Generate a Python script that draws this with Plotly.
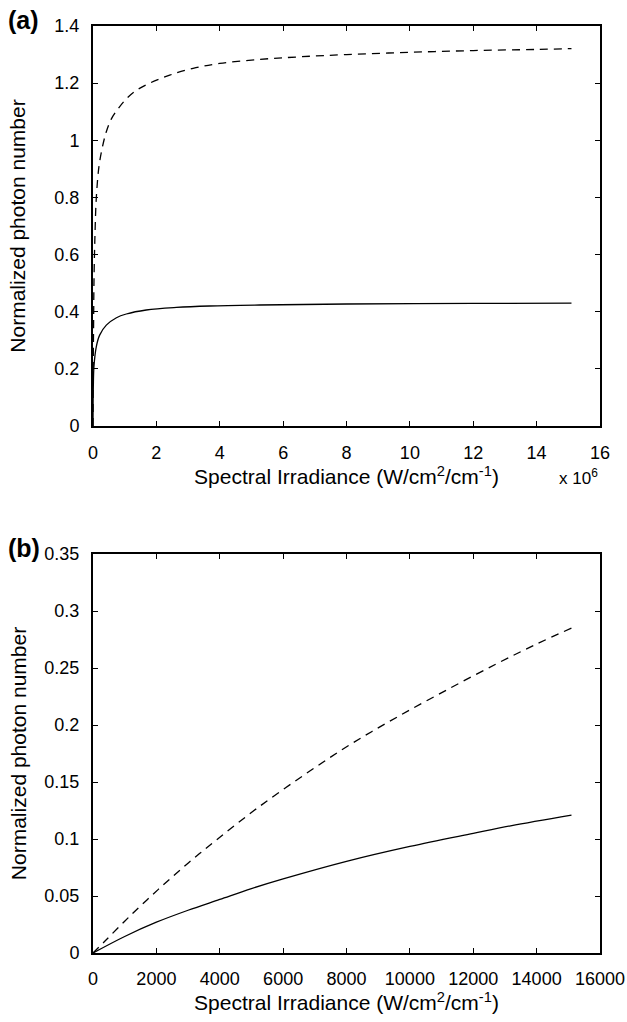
import plotly.graph_objects as go
from plotly.subplots import make_subplots

# ---- Panel (a) data (x in W/cm^2/cm^-1) ----
a_dash_x = [0, 0.01e6, 0.02e6, 0.03e6, 0.06e6, 0.105e6, 0.19e6, 0.295e6, 0.42e6, 0.58e6,
            0.79e6, 1.05e6, 1.37e6, 1.79e6, 2.42e6, 3.16e6, 4.0e6, 5.26e6, 6.5e6, 8e6,
            10e6, 12e6, 14e6, 15.1e6]
a_dash_y = [0, 0.25, 0.37, 0.5, 0.66, 0.80, 0.91, 0.975, 1.03, 1.075,
            1.11, 1.145, 1.175, 1.2, 1.228, 1.252, 1.269, 1.283, 1.292, 1.300,
            1.308, 1.314, 1.318, 1.321]
a_solid_x = [0, 0.003e6, 0.01e6, 0.03e6, 0.105e6, 0.21e6, 0.42e6, 0.74e6, 1.05e6, 1.68e6,
             2.63e6, 3.68e6, 5.26e6, 8e6, 12e6, 15.1e6]
a_solid_y = [0, 0.08, 0.138, 0.208, 0.278, 0.318, 0.353, 0.379, 0.392, 0.406,
             0.415, 0.42, 0.4235, 0.427, 0.429, 0.43]

# ---- Panel (b) data ----
b_dash_x = [0, 379, 1115, 2062, 3008, 3955, 5179, 6653, 8126, 9600, 11179, 12758, 14000, 15100]
b_dash_y = [0, 0.0105, 0.031, 0.0558, 0.079, 0.1005, 0.127, 0.156, 0.183, 0.207, 0.231,
            0.254, 0.271, 0.285]
b_solid_x = [0, 1000, 2000, 3000, 4000, 5000, 6000, 8000, 10000, 12000, 13179, 15100]
b_solid_y = [0, 0.0145, 0.027, 0.0375, 0.047, 0.0565, 0.065, 0.0804, 0.0935, 0.105,
             0.1116, 0.121]

a_xticks = [0, 2e6, 4e6, 6e6, 8e6, 10e6, 12e6, 14e6, 16e6]
a_xtext = ["0", "2", "4", "6", "8", "10", "12", "14", "16"]
a_yticks = [0, 0.2, 0.4, 0.6, 0.8, 1.0, 1.2, 1.4]
a_ytext = ["0", "0.2", "0.4", "0.6", "0.8", "1", "1.2", "1.4"]
b_xticks = [0, 2000, 4000, 6000, 8000, 10000, 12000, 14000, 16000]
b_xtext = [str(v) for v in b_xticks]
b_yticks = [0, 0.05, 0.1, 0.15, 0.2, 0.25, 0.3, 0.35]
b_ytext = ["0", "0.05", "0.1", "0.15", "0.2", "0.25", "0.3", "0.35"]

FONT = "Liberation Sans, Arial, sans-serif"
W, H = 627, 1022
ml, mr, mt, mb = 93, 27, 26, 69
ph = H - mt - mb

fig = make_subplots(rows=2, cols=1)
line_d = dict(color="black", width=1.3, dash="8px,6px")
line_s = dict(color="black", width=1.3)
fig.add_trace(go.Scatter(x=a_dash_x, y=a_dash_y, mode="lines", line=line_d, line_shape="spline"), 1, 1)
fig.add_trace(go.Scatter(x=a_solid_x, y=a_solid_y, mode="lines", line=line_s, line_shape="spline"), 1, 1)
fig.add_trace(go.Scatter(x=b_dash_x, y=b_dash_y, mode="lines", line=line_d, line_shape="spline"), 2, 1)
fig.add_trace(go.Scatter(x=b_solid_x, y=b_solid_y, mode="lines", line=line_s, line_shape="spline"), 2, 1)

axcommon = dict(showline=True, linecolor="black", linewidth=2, mirror="ticks",
                ticks="inside", ticklen=5, tickwidth=1, tickcolor="black",
                showgrid=False, zeroline=False, automargin=False,
                tickfont=dict(family=FONT, size=18, color="black"))

top_dom = [(953 - 426) / ph, 1.0]
bot_dom = [0.0, (953 - 554) / ph]

xtitle = "Spectral Irradiance (W/cm<sup>2</sup>/cm<sup>-1</sup>)"
ytitle = "Normalized photon number"
tfont = dict(family=FONT, size=21, color="black")

fig.update_layout(
    xaxis=dict(axcommon, range=[0, 16e6], tickvals=a_xticks, ticktext=a_xtext,
               domain=[0, 1], ticklabelstandoff=9,
               title=dict(text=xtitle, font=tfont, standoff=5)),
    yaxis=dict(axcommon, range=[0, 1.4], tickvals=a_yticks, ticktext=a_ytext,
               domain=top_dom, ticklabelstandoff=8,
               title=dict(text=ytitle, font=tfont, standoff=23)),
    xaxis2=dict(axcommon, range=[0, 16000], tickvals=b_xticks, ticktext=b_xtext,
                domain=[0, 1], ticklabelstandoff=8,
                title=dict(text=xtitle, font=tfont, standoff=5)),
    yaxis2=dict(axcommon, range=[0, 0.35], tickvals=b_yticks, ticktext=b_ytext,
                domain=bot_dom, ticklabelstandoff=8,
                title=dict(text=ytitle, font=tfont, standoff=12)),
    width=W, height=H,
    margin=dict(l=ml, r=mr, t=mt, b=mb),
    paper_bgcolor="white", plot_bgcolor="white",
    showlegend=False,
    font=dict(family=FONT, color="black"),
)

fig.add_annotation(text="<b>(a)</b>", xref="paper", yref="paper", x=-ml / (W - ml - mr) + 0.012,
                   y=1.0 + 6 / ph, xanchor="left", yanchor="middle", showarrow=False,
                   font=dict(family=FONT, size=25, color="black"))
fig.add_annotation(text="<b>(b)</b>", xref="paper", yref="paper", x=-ml / (W - ml - mr) + 0.012,
                   y=(953 - 548) / ph, xanchor="left", yanchor="middle", showarrow=False,
                   font=dict(family=FONT, size=25, color="black"))
fig.add_annotation(text="x 10<sup>6</sup>", xref="paper", yref="paper", x=1.0,
                   y=(953 - 477) / ph, xanchor="right", yanchor="middle", showarrow=False,
                   font=dict(family=FONT, size=17, color="black"))

fig.write_html("out.html", config={"displayModeBar": False},
               post_script="document.body.style.margin='0';")
